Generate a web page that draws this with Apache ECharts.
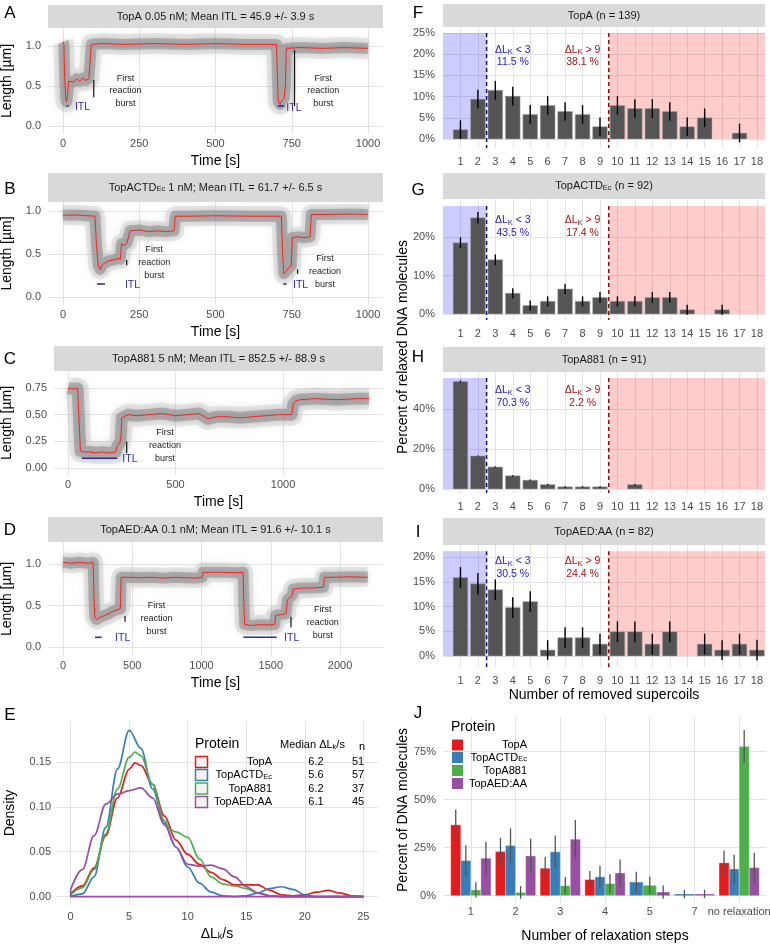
<!DOCTYPE html>
<html>
<head>
<meta charset="utf-8">
<title>TopA relaxation figure</title>
<script src="https://cdn.jsdelivr.net/npm/echarts@6.0.0/dist/echarts.min.js"></script>
<style>
  html, body { margin: 0; padding: 0; background: #fff; }
  #chart { width: 770px; height: 945px; }
</style>
</head>
<body>
<div id="chart"></div>
<script>
const FONT = '"Liberation Sans", Arial, Helvetica, sans-serif'
const GRID_COL = '#e3e3e3'
const TICK_COL = '#4d4d4d'

// ---------- A-D: mean length traces [time s, length um] ----------
const traceA = [[0,1.05],[3,1.02],[6,0.6],[9,0.33],[12,0.3],[15,0.38],[19,0.56],[25,0.58],[35,0.55],[45,0.59],[55,0.56],[65,0.6],[75,0.57],[85,0.59],[90,0.6],[93,1.02],[130,1.03],[200,1.02],[300,1.03],[400,1.02],[500,1.03],[600,1.02],[700,1.02],[703,0.6],[706,0.3],[712,0.27],[718,0.32],[725,0.35],[729,0.5],[732,0.97],[780,0.98],[850,0.97],[920,0.98],[1000,0.97]]
const traceB = [[0,0.95],[40,0.955],[80,0.945],[105,0.94],[110,0.6],[116,0.36],[122,0.32],[130,0.38],[140,0.4],[150,0.42],[165,0.43],[180,0.45],[188,0.44],[192,0.62],[200,0.6],[210,0.63],[216,0.64],[220,0.77],[250,0.78],[280,0.76],[310,0.77],[340,0.76],[364,0.77],[368,0.94],[420,0.94],[500,0.945],[600,0.94],[700,0.94],[716,0.94],[720,0.5],[724,0.27],[732,0.3],[740,0.34],[748,0.36],[752,0.69],[770,0.7],[790,0.69],[810,0.7],[814,0.96],[870,0.96],[950,0.965],[1000,0.96]]
const traceC = [[0,0.75],[20,0.74],[45,0.745],[52,0.74],[58,0.16],[70,0.15],[100,0.15],[130,0.14],[160,0.15],[190,0.14],[222,0.15],[228,0.2],[240,0.23],[246,0.28],[250,0.47],[280,0.5],[320,0.49],[380,0.5],[440,0.51],[500,0.49],[560,0.5],[610,0.51],[650,0.46],[690,0.48],[740,0.48],[800,0.47],[860,0.48],[920,0.49],[980,0.5],[1040,0.5],[1048,0.6],[1060,0.63],[1080,0.64],[1150,0.65],[1250,0.64],[1350,0.65],[1400,0.65]]
const traceD = [[0,1.02],[60,1.01],[120,1.02],[180,1.01],[218,1.02],[224,0.6],[230,0.36],[245,0.33],[270,0.36],[300,0.38],[330,0.4],[360,0.43],[390,0.45],[414,0.46],[420,0.84],[480,0.84],[560,0.835],[640,0.84],[720,0.83],[800,0.84],[880,0.835],[960,0.83],[1005,0.84],[1012,0.9],[1080,0.9],[1160,0.9],[1240,0.895],[1300,0.9],[1306,0.5],[1312,0.27],[1360,0.26],[1420,0.27],[1480,0.265],[1528,0.27],[1536,0.38],[1570,0.39],[1610,0.4],[1620,0.57],[1640,0.6],[1655,0.62],[1662,0.7],[1720,0.71],[1800,0.71],[1880,0.72],[1888,0.84],[1960,0.84],[2060,0.845],[2200,0.84]]

// ITL marks [t start, t end, length]; burst steps [t, from, to]; labels [t, length]
const itlA = [[12, 18, 0.25], [704, 725, 0.25]]
const stepA = [[101, 0.36, 0.575], [759, 0.25, 0.95]]
const itlLabelA = [[64, 0.24], [757, 0.22]]
const burstA = [[205, 0.44], [853, 0.44]]

const itlB = [[112, 138, 0.151], [722, 733, 0.151]]
const stepB = [[209, 0.37, 0.43], [769, 0.27, 0.32]]
const itlLabelB = [[228, 0.14], [779, 0.14]]
const burstB = [[299, 0.403], [859, 0.295]]

const itlC = [[64, 229, 0.091]]
const stepC = [[273, 0.138, 0.247]]
const itlLabelC = [[288, 0.084]]
const burstC = [[451, 0.209]]

const itlD = [[231, 279, 0.117], [1302, 1543, 0.117]]
const stepD = [[448, 0.305, 0.373], [1646, 0.237, 0.365]]
const itlLabelD = [[431, 0.105], [1651, 0.105]]
const burstD = [[676, 0.345], [1875, 0.297]]

// ---------- E: density of relaxation rate [dLk/s, density] ----------
const proteins = ['TopA', 'TopACTDEc', 'TopA881', 'TopAED:AA']
const protColors = ['#e41a1c', '#377eb8', '#4daf4a', '#984ea3']
const medianRate = ['6.2', '5.6', '6.2', '6.1']
const nRate = [51, 57, 37, 45]
const densTopA = [[0,0.003],[1,0.012],[2,0.032],[3,0.068],[4,0.11],[5,0.142],[5.5,0.149],[6,0.146],[7,0.125],[8,0.09],[9,0.063],[10,0.047],[11,0.036],[12,0.027],[13,0.019],[14,0.013],[15,0.013],[16,0.013],[17,0.007],[18,0.002],[19,0.001],[20,0.002],[21,0.005],[22,0.007],[23,0.004],[24,0.001],[25,0]]
const densCTD = [[0,0],[1,0.003],[2,0.022],[3,0.077],[4,0.142],[5,0.185],[6,0.165],[7,0.12],[8,0.082],[9,0.055],[10,0.033],[11,0.015],[12,0.005],[13,0.001],[14,0],[15,0.001],[16,0.004],[17,0.009],[18,0.011],[19,0.008],[20,0.002],[21,0],[25,0]]
const dens881 = [[0,0.002],[1,0.01],[2,0.03],[3,0.07],[4,0.12],[5,0.155],[5.5,0.161],[6,0.157],[7,0.125],[8,0.085],[8.5,0.075],[9,0.072],[10,0.066],[11,0.042],[12,0.022],[13,0.014],[14,0.012],[15,0.009],[16,0.004],[17,0.001],[18,0],[25,0]]
const densAED = [[0,0.008],[1,0.03],[2,0.068],[3,0.103],[4,0.114],[5,0.118],[6,0.121],[7,0.11],[8,0.08],[9,0.055],[10,0.036],[11,0.034],[12,0.035],[13,0.031],[14,0.022],[15,0.011],[16,0.004],[17,0.001],[18,0],[25,0]]

// ---------- F-I: removed supercoils per event [% of molecules] ----------
const supercoils = [1, 2, 3, 4, 5, 6, 7, 8, 9, 10, 11, 12, 13, 14, 15, 16, 17, 18]
const pctTopA = [2.2, 9.4, 11.5, 10.1, 5.8, 7.9, 6.5, 5.8, 2.9, 7.9, 7.2, 7.2, 6.5, 2.9, 5.0, 0, 1.4, 0]
const errTopA = [2.2, 2.2, 2.2, 2.2, 2.2, 2.2, 2.2, 2.2, 2.2, 2.2, 2.2, 2.2, 2.2, 2.2, 2.2, 0, 2.2, 0]
const pctCTD = [18.5, 25.0, 14.1, 5.4, 2.2, 3.3, 6.5, 3.3, 4.3, 3.3, 3.3, 4.3, 4.3, 1.1, 0, 1.1, 0, 0]
const errCTD = [1.4, 1.5, 1.4, 1.3, 1.3, 1.3, 1.3, 1.3, 1.4, 1.3, 1.3, 1.4, 1.4, 1.3, 0, 1.3, 0, 0]
const pct881 = [53.8, 16.5, 11.0, 6.6, 4.4, 2.2, 1.1, 1.1, 1.1, 0, 2.2, 0, 0, 0, 0, 0, 0, 0]
const err881 = [0.4, 0.3, 0.3, 0.3, 0.3, 0.3, 0.3, 0.3, 0.3, 0, 0.3, 0, 0, 0, 0, 0, 0, 0]
const pctAED = [15.9, 14.6, 13.4, 9.8, 11.0, 1.2, 3.7, 3.7, 2.4, 4.9, 4.9, 2.4, 4.9, 0, 2.4, 1.2, 2.4, 1.2]
const errAED = [2.1, 2.2, 2.1, 2.1, 2.1, 2.0, 2.1, 2.1, 2.1, 2.1, 2.1, 2.1, 2.1, 0, 2.1, 2.0, 2.1, 2.1]
const shadeTops = [25, 28.1, 55.5, 21.2]
const shareBelow3 = ['11.5 %', '43.5 %', '70.3 %', '30.5 %']
const shareAbove9 = ['38.1 %', '17.4 %', '2.2 %', '24.4 %']
const stripFI = ['TopA (n = 139)', 'TopACTD{s|Ec} (n = 92)', 'TopA881 (n = 91)', 'TopAED:AA (n = 82)']

// ---------- J: number of relaxation steps [% of molecules] ----------
const stepCats = ['1', '2', '3', '4', '5', '7', 'no relaxation']
const jTopA = [36.9, 23.0, 14.3, 8.4, 0, 0, 17.1]
const jTopAErr = [8, 7, 6, 4.5, 0, 0, 6.4]
const jCTD = [18.3, 26.1, 22.8, 9.8, 7.1, 0.9, 13.9]
const jCTDErr = [8, 9, 8.5, 5.8, 5.4, 2.2, 7.4]
const j881 = [3.0, 1.7, 5.2, 6.3, 5.4, 0, 77.7]
const j881Err = [4, 3.3, 4.5, 5, 4.5, 0, 8.5]
const jAED = [19.5, 20.7, 29.4, 11.8, 1.9, 0.9, 14.6]
const jAEDErr = [8.6, 9, 10, 7, 3.5, 2.2, 7.8]

// ---------- layout ----------
const grids = [
  [48, 28, 335, 106],   // A
  [48, 202, 335, 103],  // B
  [54, 371, 329, 104],  // C
  [48, 542, 335, 114],  // D
  [56, 721, 322, 184],  // E
  [443, 27, 322, 121],  // F
  [443, 199, 322, 121], // G
  [443, 372, 322, 121], // H
  [443, 545, 322, 122], // I
  [444, 717, 322, 186]  // J
]

const f1 = v => v.toFixed(1)
const f2 = v => v.toFixed(2)
const fInt = v => String(Math.round(v))
const fPct = v => Math.round(v) + '%'

function valueAxis (g, range, fmt, opt) {
  opt = opt || {}
  const ax = {
    type: 'value', gridIndex: g, min: range[0], max: range[1],
    minInterval: range[2], maxInterval: range[2],
    axisLine: {show: false}, axisTick: {show: false},
    axisLabel: {color: TICK_COL, fontSize: 11, fontFamily: FONT, margin: opt.margin,
      showMinLabel: false, showMaxLabel: false, formatter: fmt},
    splitLine: {show: true, showMinLine: false, showMaxLine: false, lineStyle: {color: GRID_COL, width: 1}},
    nameLocation: 'middle',
    nameTextStyle: {color: '#000', fontSize: 14, fontFamily: FONT}
  }
  if (opt.name) { ax.name = opt.name; ax.nameGap = opt.nameGap }
  if (opt.rich) ax.nameTextStyle.rich = opt.rich
  return ax
}

function segSeries (g, rows, style, z) {
  return {
    type: 'custom', xAxisIndex: g, yAxisIndex: g, z: z || 4, silent: true, data: rows,
    renderItem: function (p, api) {
      const a = api.coord([api.value(0), api.value(1)])
      const b = api.coord([api.value(2), api.value(3)])
      return {type: 'line', shape: {x1: a[0], y1: a[1], x2: b[0], y2: b[1]}, style: Object.assign({fill: null}, style)}
    }
  }
}

function textSeries (g, rows, style) {
  return {
    type: 'custom', xAxisIndex: g, yAxisIndex: g, z: 6, silent: true,
    data: rows.map(r => [r[0], r[1]]),
    renderItem: function (p, api) {
      const c = api.coord([api.value(0), api.value(1)])
      return {type: 'text', x: c[0], y: c[1],
        style: Object.assign({text: rows[p.dataIndex][2], align: 'center', verticalAlign: 'middle', fontFamily: FONT}, style)}
    }
  }
}

const xAxes = []
const yAxes = []
const series = []

// ---------- A-D ----------
const timePanels = [
  {trace: traceA, itl: itlA, step: stepA, lab: itlLabelA, burst: burstA, x: [-49, 1049, 250], y: [-0.1, 1.225, 0.5], fy: f1, halo: 21, core: 11, gap: 34},
  {trace: traceB, itl: itlB, step: stepB, lab: itlLabelB, burst: burstB, x: [-49, 1049, 250], y: [-0.093, 1.105, 0.5], fy: f1, halo: 20, core: 11, gap: 34},
  {trace: traceC, itl: itlC, step: stepC, lab: itlLabelC, burst: burstC, x: [-65, 1465, 500], y: [-0.066, 0.909, 0.25], fy: f2, halo: 22, core: 12, gap: 40},
  {trace: traceD, itl: itlD, step: stepD, lab: itlLabelD, burst: burstD, x: [-108, 2310, 500], y: [-0.108, 1.265, 0.5], fy: f1, halo: 20, core: 11, gap: 34}
]

timePanels.forEach(function (p, g) {
  xAxes.push(valueAxis(g, p.x, fInt, {margin: 4, name: 'Time [s]', nameGap: 20}))
  yAxes.push(valueAxis(g, p.y, p.fy, {margin: 7, name: 'Length [µm]', nameGap: p.gap}))
  const base = {type: 'line', xAxisIndex: g, yAxisIndex: g, data: p.trace, showSymbol: false, silent: true, z: 2}
  series.push(
    // spread of the individual molecule traces, drawn as a soft grey band
    Object.assign({}, base, {lineStyle: {color: 'rgba(170,170,170,0.25)', width: p.halo, cap: 'butt', join: 'round',
      shadowBlur: 8, shadowColor: 'rgba(170,170,170,0.6)'}}),
    Object.assign({}, base, {lineStyle: {color: 'rgba(100,100,100,0.36)', width: p.core, cap: 'butt', join: 'round',
      shadowBlur: 5, shadowColor: 'rgba(110,110,110,0.55)'}}),
    Object.assign({}, base, {z: 3, lineStyle: {color: '#ff1f1f', width: 1}}),
    segSeries(g, p.itl.map(r => [r[0], r[2], r[1], r[2]]), {stroke: '#2d2d9b', lineWidth: 1.6}),
    segSeries(g, p.step.map(r => [r[0], r[1], r[0], r[2]]), {stroke: '#111', lineWidth: 1.2}),
    textSeries(g, p.lab.map(r => [r[0], r[1], 'ITL']), {fill: '#3030b5', fontSize: 10.5}),
    textSeries(g, p.burst.map(r => [r[0], r[1], 'First\nreaction\nburst']), {fill: '#1a1a1a', fontSize: 9, lineHeight: 12.7})
  )
})

// ---------- E ----------
const axisRich = {
  a: {fontSize: 14, color: '#000', fontFamily: FONT},
  s: {fontSize: 9, color: '#000', fontFamily: FONT, verticalAlign: 'bottom'}
}
xAxes.push(valueAxis(4, [-1.25, 26.25, 5], fInt, {margin: 6, name: '{a|ΔL}{s|k}{a|/s}', nameGap: 22, rich: axisRich}))
yAxes.push(valueAxis(4, [-0.0093, 0.1955, 0.05], f2, {margin: 5, name: 'Density', nameGap: 39}))
;[densTopA, densCTD, dens881, densAED].forEach(function (d, i) {
  series.push({type: 'line', xAxisIndex: 4, yAxisIndex: 4, data: d, showSymbol: false, silent: true,
    smooth: 0.35, smoothMonotone: 'x', z: 3 + i, lineStyle: {color: protColors[i], width: 1.7}})
})
series.push(segSeries(4, [[0, 0, 25, 0], [0, 0, 0, densAED[0][1]]], {stroke: protColors[3], lineWidth: 1.7}, 8))

// ---------- F-I ----------
const X_MAX = 18.46
const BAR_W = 0.84
const barY = [[-2.12, 26.42, 5], [-1.56, 29.9, 10], [-2.0, 58.5, 20], [-2.23, 22.47, 5]]
const labelY = [19.6, 22.7, 46.2, 17.9]
const barPcts = [pctTopA, pctCTD, pct881, pctAED]
const barErrs = [errTopA, errCTD, err881, errAED]

barPcts.forEach(function (pct, i) {
  const g = 5 + i
  const err = barErrs[i]
  const top = shadeTops[i]
  xAxes.push(valueAxis(g, [0, X_MAX, 1], fInt, {margin: 8,
    name: i === 3 ? 'Number of removed supercoils' : '', nameGap: 21}))
  yAxes.push(valueAxis(g, barY[i], fPct, {margin: 8}))
  series.push({
    type: 'custom', xAxisIndex: g, yAxisIndex: g, z: 1, silent: true,
    data: [[0, 2.5, top, 0], [9.5, X_MAX, top, 1]],
    renderItem: function (p, api) {
      const a = api.coord([api.value(0), 0])
      const b = api.coord([api.value(1), api.value(2)])
      return {type: 'rect', shape: {x: a[0], y: b[1], width: b[0] - a[0], height: a[1] - b[1]},
        style: {fill: api.value(3) ? 'rgba(255,0,0,0.2)' : 'rgba(0,0,255,0.2)'}}
    }
  })
  series.push({
    type: 'custom', xAxisIndex: g, yAxisIndex: g, z: 2, silent: true,
    data: supercoils.map((k, j) => [k, pct[j]]).filter(r => r[1] > 0),
    renderItem: function (p, api) {
      const k = api.value(0)
      const a = api.coord([k - BAR_W / 2, 0])
      const b = api.coord([k + BAR_W / 2, api.value(1)])
      return {type: 'rect', shape: {x: a[0], y: b[1], width: b[0] - a[0], height: a[1] - b[1]},
        style: {fill: '#555555', stroke: '#a8a8a8', lineWidth: 0.5}}
    }
  })
  series.push(segSeries(g, supercoils.map((k, j) => [k, pct[j] - err[j], k, pct[j] + err[j]]).filter((r, j) => err[j] > 0),
    {stroke: '#000', lineWidth: 1.4}, 3))
  series.push(segSeries(g, [[2.5, top, 2.5, barY[i][0]]], {stroke: '#10108a', lineWidth: 1.5, lineDash: [4, 3]}, 4))
  series.push(segSeries(g, [[9.5, top, 9.5, barY[i][0]]], {stroke: '#8b0a0a', lineWidth: 1.5, lineDash: [4, 3]}, 4))
  series.push(textSeries(g, [[4, labelY[i], 'ΔL{s|K} < 3\n' + shareBelow3[i]]],
    {fill: '#2323c0', fontSize: 10.5, lineHeight: 12.5, rich: {s: {fontSize: 7.5, fill: '#2323c0', fontFamily: FONT, verticalAlign: 'bottom'}}}))
  series.push(textSeries(g, [[8, labelY[i], 'ΔL{s|K} > 9\n' + shareAbove9[i]]],
    {fill: '#a31515', fontSize: 10.5, lineHeight: 12.5, rich: {s: {fontSize: 7.5, fill: '#a31515', fontFamily: FONT, verticalAlign: 'bottom'}}}))
})

// ---------- J ----------
xAxes.push(valueAxis(9, [0.4, 7.6, 1], v => stepCats[Math.round(v) - 1] || '', {margin: 3, name: 'Number of relaxation steps', nameGap: 26}))
yAxes.push(valueAxis(9, [-3.8, 93, 25], fPct, {margin: 8, name: 'Percent of DNA molecules', nameGap: 34}))
const jVals = [jTopA, jCTD, j881, jAED]
const jErrs = [jTopAErr, jCTDErr, j881Err, jAEDErr]
jVals.forEach(function (vals, s) {
  const rows = []
  stepCats.forEach(function (c, i) {
    const present = jVals.map(a => a[i] > 0)
    if (!present[s]) return
    const count = present.filter(Boolean).length
    const slot = present.slice(0, s).filter(Boolean).length
    rows.push([i + 1, vals[i], jErrs[s][i], slot, count])
  })
  series.push({
    type: 'custom', xAxisIndex: 9, yAxisIndex: 9, z: 2 + s, silent: true, data: rows,
    renderItem: function (p, api) {
      const x = api.value(0), v = api.value(1), e = api.value(2)
      const w = 0.9 / api.value(4)
      const x0 = x - 0.45 + api.value(3) * w
      const a = api.coord([x0, 0]), b = api.coord([x0 + w, v])
      const lo = api.coord([x0 + w / 2, v - e]), hi = api.coord([x0 + w / 2, v + e])
      return {type: 'group', children: [
        {type: 'rect', shape: {x: a[0], y: b[1], width: b[0] - a[0], height: a[1] - b[1]},
          style: {fill: protColors[s], stroke: 'rgba(255,255,255,0.55)', lineWidth: 0.6}},
        {type: 'line', shape: {x1: lo[0], y1: lo[1], x2: hi[0], y2: hi[1]}, style: {stroke: '#555', lineWidth: 1.3}}
      ]}
    }
  })
})

// ---------- graphic: strips, letters, legends ----------
const stripRich = {s: {fontSize: 7.5, fill: '#1a1a1a', fontFamily: FONT, verticalAlign: 'bottom'}}
const strips = [
  [48, 5, 335, 23, 'TopA 0.05 nM; Mean ITL = 45.9 +/- 3.9 s'],
  [48, 173, 335, 29, 'TopACTD{s|Ec} 1 nM; Mean ITL = 61.7 +/- 6.5 s'],
  [54, 346, 329, 25, 'TopA881 5 nM; Mean ITL = 852.5 +/- 88.9 s'],
  [48, 517, 335, 25, 'TopAED:AA 0.1 nM; Mean ITL = 91.6 +/- 10.1 s'],
  [443, 4, 322, 23, stripFI[0]],
  [443, 173, 322, 26, stripFI[1]],
  [443, 347, 322, 25, stripFI[2]],
  [443, 518, 322, 27, stripFI[3]]
]
const graphic = []
strips.forEach(function (s) {
  graphic.push({type: 'rect', silent: true, z: 50, shape: {x: s[0], y: s[1], width: s[2], height: s[3]}, style: {fill: '#d9d9d9'}})
  graphic.push({type: 'text', silent: true, z: 51, x: s[0] + s[2] / 2, y: s[1] + s[3] / 2,
    style: {text: s[4], align: 'center', verticalAlign: 'middle', fontSize: 11, fontFamily: FONT, fill: '#1a1a1a', rich: stripRich}})
})
const letters = [['A', 10, 13], ['B', 10, 189], ['C', 10, 359], ['D', 10, 530], ['E', 10, 715],
  ['F', 418, 13], ['G', 418, 190], ['H', 418, 357], ['I', 418, 532], ['J', 418, 713]]
letters.forEach(function (l) {
  graphic.push({type: 'text', silent: true, z: 50, x: l[1], y: l[2],
    style: {text: l[0], align: 'center', verticalAlign: 'middle', fontSize: 17, fontFamily: FONT, fill: '#000'}})
})
graphic.push({type: 'text', silent: true, z: 50, x: 403, y: 347, rotation: Math.PI / 2,
  style: {text: 'Percent of relaxed DNA molecules', align: 'center', verticalAlign: 'middle', fontSize: 14, fontFamily: FONT, fill: '#000'}})

const legRich = {s: {fontSize: 7.5, fill: '#000', fontFamily: FONT, verticalAlign: 'bottom'}}
const protLabel = name => name.replace('Ec', '{s|Ec}')

// E legend table
graphic.push({type: 'text', silent: true, z: 50, x: 195, y: 744, style: {text: 'Protein', verticalAlign: 'middle', fontSize: 14, fontFamily: FONT, fill: '#000'}})
graphic.push({type: 'text', silent: true, z: 50, x: 280, y: 745, style: {text: 'Median ΔL{s|k}/s', verticalAlign: 'middle', fontSize: 11, fontFamily: FONT, fill: '#000', rich: legRich}})
graphic.push({type: 'text', silent: true, z: 50, x: 362, y: 747, style: {text: 'n', align: 'center', verticalAlign: 'middle', fontSize: 11, fontFamily: FONT, fill: '#000'}})
const eRows = [762, 775, 788.5, 802]
proteins.forEach(function (name, i) {
  const y = eRows[i]
  graphic.push({type: 'rect', silent: true, z: 50, shape: {x: 195.5, y: y - 5.5, width: 12, height: 11}, style: {fill: '#f2f2f2', stroke: protColors[i], lineWidth: 1.5}})
  graphic.push({type: 'text', silent: true, z: 50, x: 272, y: y, style: {text: protLabel(name), align: 'right', verticalAlign: 'middle', fontSize: 11, fontFamily: FONT, fill: '#000', rich: legRich}})
  graphic.push({type: 'text', silent: true, z: 50, x: 316, y: y, style: {text: medianRate[i], align: 'center', verticalAlign: 'middle', fontSize: 11, fontFamily: FONT, fill: '#000'}})
  graphic.push({type: 'text', silent: true, z: 50, x: 358, y: y, style: {text: String(nRate[i]), align: 'center', verticalAlign: 'middle', fontSize: 11, fontFamily: FONT, fill: '#000'}})
})

// J legend
graphic.push({type: 'text', silent: true, z: 50, x: 451, y: 727, style: {text: 'Protein', verticalAlign: 'middle', fontSize: 14, fontFamily: FONT, fill: '#000'}})
const jRows = [745, 757.5, 770.5, 783.5]
proteins.forEach(function (name, i) {
  const y = jRows[i]
  graphic.push({type: 'rect', silent: true, z: 50, shape: {x: 452, y: y - 5.5, width: 11, height: 11}, style: {fill: protColors[i]}})
  graphic.push({type: 'text', silent: true, z: 50, x: 527, y: y, style: {text: protLabel(name), align: 'right', verticalAlign: 'middle', fontSize: 11, fontFamily: FONT, fill: '#000', rich: legRich}})
})

const chart = echarts.init(document.getElementById('chart'), null, {renderer: 'canvas'})
chart.setOption({
  animation: false,
  backgroundColor: '#fff',
  textStyle: {fontFamily: FONT},
  grid: grids.map(g => ({left: g[0], top: g[1], width: g[2], height: g[3], containLabel: false, outerBoundsMode: 'none'})),
  xAxis: xAxes,
  yAxis: yAxes,
  series: series,
  graphic: graphic
})
</script>
</body>
</html>
